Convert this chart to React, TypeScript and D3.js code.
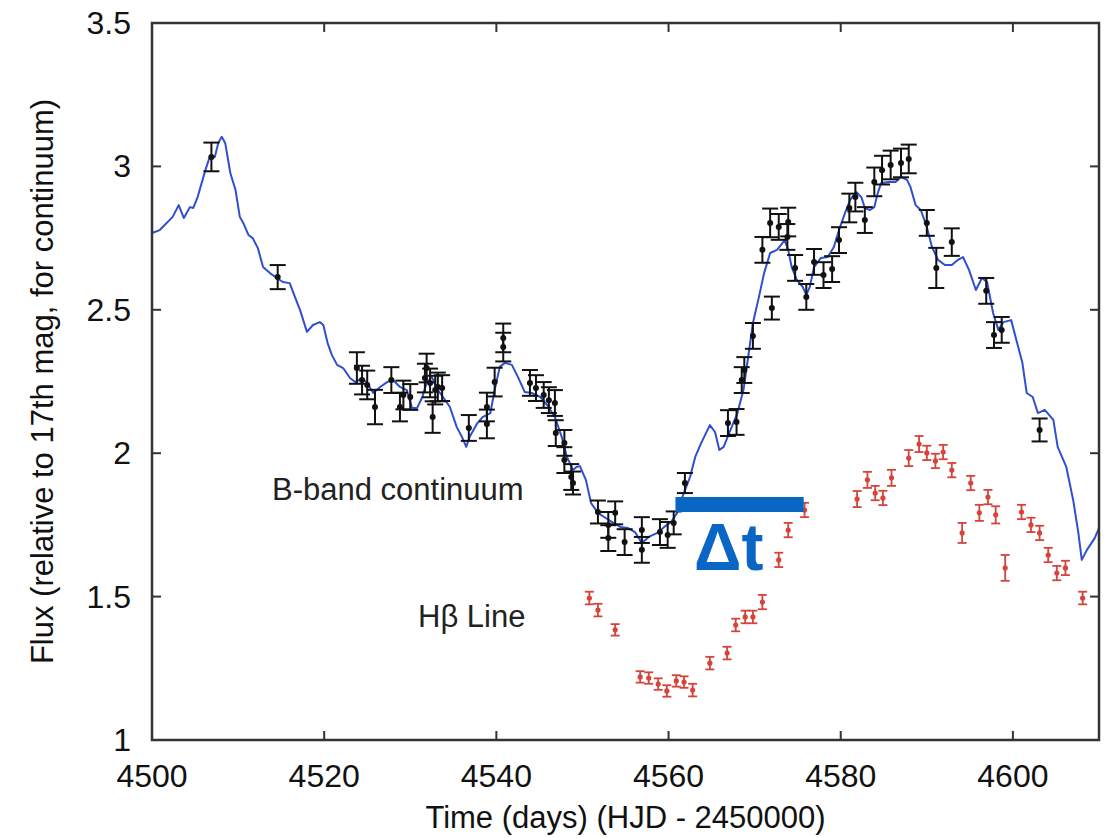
import React from "react";
import * as d3 from "d3";

// Axis ticks
const X_TICKS = [4500, 4520, 4540, 4560, 4580, 4600];
const Y_TICKS = [1, 1.5, 2, 2.5, 3, 3.5];

// B-band continuum model curve (fine sampling)
const modelDays = [
  4500.0, 4500.9, 4502.4, 4503.1, 4503.7, 4504.4, 4504.8, 4505.3, 4506.2, 4506.7,
  4507.3, 4507.7, 4508.1, 4508.5, 4509.1, 4509.7, 4510.2, 4510.6, 4511.2, 4511.7,
  4512.3, 4512.9, 4513.7, 4514.5, 4515.2, 4516.0, 4516.6, 4517.2, 4518.0, 4518.7,
  4519.5, 4519.9, 4520.4, 4520.9, 4521.5, 4522.2, 4523.0, 4523.6, 4524.4, 4525.0,
  4525.7, 4526.5, 4527.3, 4528.0, 4528.8, 4529.6, 4530.2, 4530.8, 4531.4, 4531.9,
  4532.5, 4533.2, 4533.8, 4534.6, 4535.4, 4536.0, 4536.5, 4536.9, 4537.8, 4538.4,
  4539.3, 4539.8, 4540.4, 4541.0, 4541.8, 4542.5, 4543.3, 4544.1, 4545.1, 4545.9,
  4546.8, 4547.6, 4548.2, 4548.9, 4549.3, 4549.7, 4550.4, 4551.0, 4551.8, 4552.7,
  4553.6, 4554.4, 4555.3, 4556.1, 4556.9, 4557.7, 4558.7, 4559.5, 4560.3, 4561.0,
  4561.6, 4562.5, 4563.1, 4563.8, 4564.8, 4565.4, 4565.9, 4566.4, 4567.1, 4568.0,
  4568.7, 4569.2, 4569.8, 4570.5, 4571.1, 4571.8, 4572.6, 4573.5, 4573.9, 4574.3,
  4574.9, 4575.6, 4576.0, 4576.4, 4576.9, 4577.7, 4578.5, 4579.2, 4579.8, 4580.5,
  4581.1, 4581.8, 4582.4, 4582.8, 4583.4, 4583.9, 4584.3, 4584.7, 4585.6, 4586.4,
  4587.0, 4587.7, 4588.1, 4588.7, 4589.3, 4590.0, 4590.6, 4591.3, 4592.1, 4592.9,
  4593.6, 4594.2, 4594.9, 4595.7, 4596.4, 4597.0, 4597.7, 4598.3, 4598.9, 4599.8,
  4600.4, 4601.1, 4601.6, 4602.3, 4602.9, 4603.7, 4604.7, 4605.2, 4606.2, 4607.0,
  4607.6, 4608.0, 4608.6, 4609.5, 4610.0,
];
const modelFlux = [
  2.768, 2.778, 2.824, 2.865, 2.820, 2.858, 2.855, 2.893, 2.987, 3.033,
  3.033, 3.082, 3.103, 3.082, 2.977, 2.918, 2.824, 2.803, 2.761, 2.750,
  2.715, 2.649, 2.628, 2.611, 2.597, 2.593, 2.545, 2.499, 2.423, 2.447,
  2.457, 2.447, 2.384, 2.342, 2.308, 2.297, 2.262, 2.248, 2.262, 2.245,
  2.210, 2.231, 2.248, 2.255, 2.231, 2.220, 2.158, 2.158, 2.196, 2.245,
  2.266, 2.220, 2.196, 2.161, 2.091, 2.057, 2.022, 2.057, 2.105, 2.126,
  2.140, 2.220, 2.301, 2.315, 2.308, 2.266, 2.213, 2.210, 2.196, 2.168,
  2.126, 2.056, 1.987, 1.941, 1.952, 1.955, 1.907, 1.826, 1.792, 1.774,
  1.757, 1.743, 1.739, 1.725, 1.687, 1.708, 1.722, 1.743, 1.760, 1.792,
  1.847, 1.917, 1.987, 2.036, 2.098, 2.074, 2.011, 2.022, 2.074, 2.140,
  2.220, 2.325, 2.454, 2.545, 2.628, 2.698, 2.709, 2.743, 2.709, 2.649,
  2.604, 2.579, 2.552, 2.579, 2.649, 2.681, 2.684, 2.719, 2.778, 2.838,
  2.883, 2.911, 2.893, 2.855, 2.848, 2.858, 2.907, 2.942, 2.946, 2.946,
  2.963, 2.953, 2.928, 2.865, 2.848, 2.789, 2.719, 2.674, 2.656, 2.656,
  2.674, 2.684, 2.639, 2.569, 2.611, 2.597, 2.489, 2.430, 2.457, 2.464,
  2.395, 2.315, 2.210, 2.196, 2.140, 2.151, 2.116, 2.022, 1.952, 1.837,
  1.722, 1.628, 1.663, 1.704, 1.739,
];

// B-band continuum photometry
const bandDays = [
  4506.9, 4514.6, 4523.8, 4524.4, 4525.0, 4525.9, 4527.8, 4528.8, 4529.2, 4530.0,
  4531.7, 4531.9, 4532.3, 4532.6, 4532.9, 4533.2, 4533.7, 4536.8, 4538.9, 4538.9,
  4539.8, 4540.8, 4540.8, 4543.9, 4544.6, 4545.5, 4546.1, 4546.8, 4546.9, 4547.9,
  4547.9, 4548.7, 4548.9, 4551.8, 4553.0, 4553.0, 4553.8, 4554.9, 4556.9, 4556.9,
  4559.0, 4559.9, 4560.6, 4561.9, 4566.9, 4567.9, 4568.5, 4568.8, 4569.8, 4570.9,
  4571.8, 4572.0, 4572.8, 4573.8, 4573.9, 4574.7, 4576.0, 4576.9, 4578.0, 4579.0,
  4579.8, 4581.0, 4581.7, 4582.8, 4583.9, 4584.8, 4585.8, 4587.0, 4587.9, 4590.0,
  4591.1, 4592.9, 4596.9, 4597.8, 4598.7, 4603.1,
];
const bandFlux = [
  3.033, 2.614, 2.297, 2.255, 2.238, 2.161, 2.255, 2.161, 2.203, 2.196,
  2.262, 2.297, 2.245, 2.126, 2.220, 2.231, 2.227, 2.088, 2.161, 2.102,
  2.248, 2.402, 2.370, 2.245, 2.227, 2.203, 2.185, 2.175, 2.070, 2.036,
  1.976, 1.917, 1.896, 1.795, 1.750, 1.704, 1.792, 1.690, 1.732, 1.663,
  1.725, 1.715, 1.757, 1.896, 2.105, 2.109, 2.255, 2.290, 2.409, 2.709,
  2.803, 2.506, 2.789, 2.754, 2.806, 2.646, 2.545, 2.667, 2.621, 2.642,
  2.743, 2.855, 2.893, 2.813, 2.946, 2.987, 3.005, 3.012, 3.026, 2.803,
  2.646, 2.736, 2.566, 2.412, 2.430, 2.081,
];
const bandErr = [
  0.050, 0.042, 0.055, 0.050, 0.050, 0.060, 0.045, 0.050, 0.050, 0.045,
  0.050, 0.050, 0.050, 0.055, 0.050, 0.050, 0.045, 0.045, 0.050, 0.050,
  0.050, 0.050, 0.050, 0.045, 0.045, 0.045, 0.045, 0.045, 0.045, 0.045,
  0.045, 0.045, 0.040, 0.040, 0.045, 0.045, 0.040, 0.045, 0.045, 0.045,
  0.045, 0.045, 0.040, 0.035, 0.045, 0.045, 0.045, 0.045, 0.045, 0.045,
  0.050, 0.040, 0.045, 0.045, 0.050, 0.045, 0.045, 0.045, 0.045, 0.045,
  0.045, 0.050, 0.050, 0.045, 0.050, 0.050, 0.050, 0.050, 0.050, 0.045,
  0.070, 0.048, 0.045, 0.045, 0.045, 0.040,
];

// H-beta emission line fluxes
const lineDays = [
  4550.8, 4551.8, 4553.8, 4556.7, 4557.7, 4558.8, 4559.8, 4560.9, 4561.8, 4562.8,
  4564.8, 4566.8, 4567.8, 4568.9, 4569.8, 4570.9, 4572.8, 4573.9, 4575.8, 4581.9,
  4583.1, 4584.0, 4584.9, 4585.9, 4587.9, 4589.1, 4590.0, 4591.0, 4591.9, 4592.9,
  4594.1, 4595.1, 4596.1, 4597.1, 4598.0, 4599.1, 4601.0, 4602.1, 4603.1, 4604.1,
  4605.1, 4606.1, 4608.1,
];
const lineFlux = [
  1.495, 1.453, 1.384, 1.220, 1.216, 1.195, 1.171, 1.206, 1.202, 1.174,
  1.268, 1.303, 1.401, 1.429, 1.429, 1.481, 1.628, 1.732, 1.802, 1.840,
  1.907, 1.861, 1.844, 1.914, 1.983, 2.032, 2.001, 1.973, 2.004, 1.941,
  1.722, 1.896, 1.792, 1.847, 1.785, 1.600, 1.795, 1.750, 1.722, 1.645,
  1.582, 1.600, 1.495,
];
const lineErr = [
  0.022, 0.022, 0.020, 0.020, 0.020, 0.020, 0.020, 0.020, 0.020, 0.022,
  0.022, 0.022, 0.022, 0.022, 0.022, 0.025, 0.025, 0.025, 0.025, 0.028,
  0.028, 0.025, 0.025, 0.028, 0.028, 0.028, 0.025, 0.025, 0.025, 0.025,
  0.035, 0.025, 0.028, 0.025, 0.030, 0.045, 0.025, 0.025, 0.025, 0.025,
  0.025, 0.025, 0.022,
];

// Lag marker between continuum and line response
const lagStart = 4560.8;
const lagEnd = 4575.7;
const lagLevel = 1.821;

const FONT = "'Liberation Sans', Arial, Helvetica, sans-serif";

export default function App() {
  const left = 152;
  const right = 1099;
  const top = 23;
  const bottom = 740;

  const x = d3.scaleLinear().domain([4500, 4610]).range([left, right]);
  const y = d3.scaleLinear().domain([1, 3.5]).range([bottom, top]);

  const model = modelDays.map((d, i) => [d, modelFlux[i]] as [number, number]);
  const linePath = d3
    .line<[number, number]>()
    .x((d) => x(d[0]))
    .y((d) => y(d[1]))(model);

  const tickLen = 9;
  const frameColor = "#333";

  return (
    <svg
      width={1110}
      height={838}
      style={{ position: "absolute", left: 0, top: 0, background: "#fff" }}
    >
      <rect x={0} y={0} width={1110} height={838} fill="#fff" />

      {/* model curve */}
      <path d={linePath || ""} fill="none" stroke="#2f4fd0" strokeWidth={2} strokeLinejoin="round" />

      {/* continuum photometry */}
      <g stroke="#111" strokeWidth={2} fill="#111">
        {bandDays.map((d, i) => {
          const cx = x(d);
          const yHi = y(bandFlux[i] + bandErr[i]);
          const yLo = y(bandFlux[i] - bandErr[i]);
          return (
            <g key={`b${i}`}>
              <line x1={cx} x2={cx} y1={yHi} y2={yLo} />
              <line x1={cx - 8} x2={cx + 8} y1={yHi} y2={yHi} />
              <line x1={cx - 8} x2={cx + 8} y1={yLo} y2={yLo} />
              <circle cx={cx} cy={y(bandFlux[i])} r={3} stroke="none" />
            </g>
          );
        })}
      </g>

      {/* H-beta points */}
      <g stroke="#d6433b" strokeWidth={1.8} fill="#d6433b">
        {lineDays.map((d, i) => {
          const cx = x(d);
          const yHi = y(lineFlux[i] + lineErr[i]);
          const yLo = y(lineFlux[i] - lineErr[i]);
          return (
            <g key={`h${i}`}>
              <line x1={cx} x2={cx} y1={yHi} y2={yLo} />
              <line x1={cx - 4.5} x2={cx + 4.5} y1={yHi} y2={yHi} />
              <line x1={cx - 4.5} x2={cx + 4.5} y1={yLo} y2={yLo} />
              <circle cx={cx} cy={y(lineFlux[i])} r={2.6} stroke="none" />
            </g>
          );
        })}
      </g>

      {/* lag bar */}
      <line
        x1={x(lagStart)}
        x2={x(lagEnd)}
        y1={y(lagLevel)}
        y2={y(lagLevel)}
        stroke="#0a66c4"
        strokeWidth={15}
      />
      <text x={694} y={570} fontFamily={FONT} fontWeight="bold" fontSize={66} fill="#0a66c4">
        Δt
      </text>

      {/* series labels */}
      <text x={272} y={500} fontFamily={FONT} fontSize={31} fill="#222">
        B-band continuum
      </text>
      <text x={418} y={627} fontFamily={FONT} fontSize={31} fill="#222">
        Hβ Line
      </text>

      {/* frame and ticks */}
      <rect
        x={left}
        y={top}
        width={right - left}
        height={bottom - top}
        fill="none"
        stroke={frameColor}
        strokeWidth={2.5}
      />
      <g stroke={frameColor} strokeWidth={2}>
        {X_TICKS.map((t) => (
          <g key={`xt${t}`}>
            <line x1={x(t)} x2={x(t)} y1={bottom} y2={bottom - tickLen} />
            <line x1={x(t)} x2={x(t)} y1={top} y2={top + tickLen} />
          </g>
        ))}
        {Y_TICKS.map((t) => (
          <g key={`yt${t}`}>
            <line x1={left} x2={left + tickLen} y1={y(t)} y2={y(t)} />
            <line x1={right} x2={right - tickLen} y1={y(t)} y2={y(t)} />
          </g>
        ))}
      </g>

      {/* tick labels */}
      <g fontFamily={FONT} fontSize={32} fill="#111">
        {X_TICKS.map((t) => (
          <text key={`xl${t}`} x={x(t)} y={787} textAnchor="middle">
            {String(t)}
          </text>
        ))}
        {Y_TICKS.map((t) => (
          <text key={`yl${t}`} x={131} y={y(t) + 11} textAnchor="end">
            {d3.format("~g")(t)}
          </text>
        ))}
      </g>

      {/* axis titles */}
      <text
        x={(left + right) / 2}
        y={828}
        textAnchor="middle"
        fontFamily={FONT}
        fontSize={31}
        fill="#111"
      >
        Time (days) (HJD - 2450000)
      </text>
      <text
        transform={`translate(53, ${(top + bottom) / 2}) rotate(-90)`}
        textAnchor="middle"
        fontFamily={FONT}
        fontSize={31}
        fill="#111"
      >
        Flux (relative to 17th mag, for continuum)
      </text>
    </svg>
  );
}
